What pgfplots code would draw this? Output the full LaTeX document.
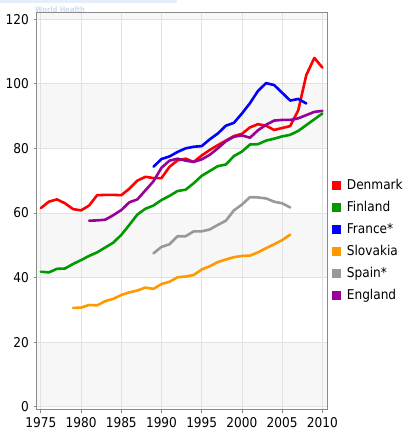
\documentclass[border=0pt]{standalone}
\usepackage{pgfplots}
\pgfplotsset{compat=1.18}
\usepackage{fontspec}
\setmainfont{DejaVu Sans Condensed}
\definecolor{cDen}{HTML}{FF0000}
\definecolor{cFin}{HTML}{009900}
\definecolor{cFra}{HTML}{0000FF}
\definecolor{cSlo}{HTML}{FF9900}
\definecolor{cSpa}{HTML}{999999}
\definecolor{cEng}{HTML}{990099}
\definecolor{band}{HTML}{F7F7F7}
\definecolor{gridc}{HTML}{E2E2E2}
\definecolor{axc}{HTML}{8A8A8A}
\definecolor{who}{HTML}{C9DCF0}
\definecolor{whobar}{HTML}{E6EFF9}
\begin{document}
\fontsize{13.5bp}{16bp}\selectfont
\begin{tikzpicture}
\fill[whobar] (0,430bp) rectangle (177bp,433bp);
\node[anchor=west, inner sep=0pt, text=who, font=\fontsize{7.5bp}{9bp}\selectfont\bfseries] at (35bp,423bp) {World Health};
\begin{axis}[
  set layers,
  at={(36bp,23bp)}, anchor=south west,
  scale only axis, width=291.7bp, height=397.3bp,
  xmin=1974.4, xmax=2010.66, ymin=-1, ymax=122,
  xtick={1975,1980,...,2010}, ytick={0,20,...,120},
  /pgf/number format/1000 sep={},
  /pgf/number format/assume math mode=true,
  tick align=outside, major tick length=2.5bp,
  tick style={axc, line width=0.8bp},
  xtick pos=bottom, ytick pos=left,
  axis line style={axc, line width=1bp},
  grid=major, major grid style={gridc, line width=0.8bp},
  tick label style={font=\fontsize{13.5bp}{16bp}\selectfont},
  legend style={at={(axis description cs:1,0.426)}, anchor=west, xshift=4bp,
    draw=none, fill=none, inner sep=0pt, row sep=9bp,
    nodes={inner sep=0pt, text height=10bp, text depth=3bp, font=\fontsize{13.5bp}{16bp}\selectfont},
    cells={anchor=west}},
  legend image code/.code={\fill[#1, draw=none] (0bp,-4.6bp) rectangle (9.3bp,4.6bp); \path[draw=none, fill=none] (0bp,0bp) -- (15bp,0bp);},
  every axis plot/.append style={line width=2.6bp, line join=round, line cap=round, mark=none},
]
\addplot[fill=band, draw=none, forget plot, on layer=axis background] coordinates {(1974.4,0)(2010.66,0)(2010.66,20)(1974.4,20)(1974.4,0)};
\addplot[fill=band, draw=none, forget plot, on layer=axis background] coordinates {(1974.4,40)(2010.66,40)(2010.66,60)(1974.4,60)(1974.4,40)};
\addplot[fill=band, draw=none, forget plot, on layer=axis background] coordinates {(1974.4,80)(2010.66,80)(2010.66,100)(1974.4,100)(1974.4,80)};
\addplot[fill=band, draw=none, forget plot, on layer=axis background] coordinates {(1974.4,120)(2010.66,120)(2010.66,122)(1974.4,122)(1974.4,120)};
\addplot[cDen] coordinates {(1975,61.5)(1976,63.5)(1977,64.2)(1978,63)(1979,61.2)(1980,60.8)(1981,62.3)(1982,65.5)(1983,65.6)(1984,65.6)(1985,65.5)(1986,67.5)(1987,70)(1988,71.2)(1989,70.8)(1990,70.8)(1991,74.3)(1992,76.3)(1993,76.8)(1994,75.8)(1995,77.8)(1996,79.5)(1997,81)(1998,82.4)(1999,83.8)(2000,84.5)(2001,86.5)(2002,87.5)(2003,87)(2004,85.7)(2005,86.3)(2006,86.9)(2007,91.8)(2008,102.7)(2009,108)(2010,105)};
\addlegendentry{Denmark}
\addplot[cFin] coordinates {(1975,41.8)(1976,41.6)(1977,42.7)(1978,42.8)(1979,44.2)(1980,45.4)(1981,46.7)(1982,47.8)(1983,49.3)(1984,50.8)(1985,53.2)(1986,56.3)(1987,59.5)(1988,61.3)(1989,62.3)(1990,64)(1991,65.3)(1992,66.8)(1993,67.2)(1994,69.2)(1995,71.5)(1996,73)(1997,74.5)(1998,75)(1999,77.6)(2000,79)(2001,81.2)(2002,81.3)(2003,82.4)(2004,83)(2005,83.7)(2006,84.2)(2007,85.4)(2008,87.2)(2009,89)(2010,90.8)};
\addlegendentry{Finland}
\addplot[cFra] coordinates {(1989,74.3)(1990,76.7)(1991,77.5)(1992,78.9)(1993,80)(1994,80.5)(1995,80.7)(1996,82.8)(1997,84.6)(1998,87)(1999,87.9)(2000,90.8)(2001,94)(2002,97.8)(2003,100.2)(2004,99.6)(2005,97.2)(2006,94.8)(2007,95.3)(2008,93.9)};
\addlegendentry{France*}
\addplot[cSlo] coordinates {(1979,30.6)(1980,30.7)(1981,31.5)(1982,31.4)(1983,32.7)(1984,33.4)(1985,34.6)(1986,35.4)(1987,36)(1988,36.9)(1989,36.5)(1990,38)(1991,38.7)(1992,40.1)(1993,40.3)(1994,40.8)(1995,42.5)(1996,43.5)(1997,44.8)(1998,45.6)(1999,46.3)(2000,46.7)(2001,46.8)(2002,47.8)(2003,49.1)(2004,50.3)(2005,51.6)(2006,53.3)};
\addlegendentry{Slovakia}
\addplot[cSpa] coordinates {(1989,47.5)(1990,49.5)(1991,50.3)(1992,52.8)(1993,52.8)(1994,54.3)(1995,54.3)(1996,54.9)(1997,56.3)(1998,57.6)(1999,60.8)(2000,62.6)(2001,64.9)(2002,64.8)(2003,64.5)(2004,63.5)(2005,63)(2006,61.7)};
\addlegendentry{Spain*}
\addplot[cEng] coordinates {(1981,57.6)(1982,57.7)(1983,57.9)(1984,59.3)(1985,60.9)(1986,63.3)(1987,64.2)(1988,67)(1989,69.8)(1990,74)(1991,76.2)(1992,76.8)(1993,76.2)(1994,75.8)(1995,76.6)(1996,78)(1997,80)(1998,82.2)(1999,83.6)(2000,84)(2001,83.3)(2002,85.6)(2003,87.3)(2004,88.6)(2005,88.8)(2006,88.8)(2007,89.3)(2008,90.3)(2009,91.3)(2010,91.6)};
\addlegendentry{England}
\end{axis}
\path (0,0) rectangle (409bp,433bp);
\end{tikzpicture}
\end{document}
